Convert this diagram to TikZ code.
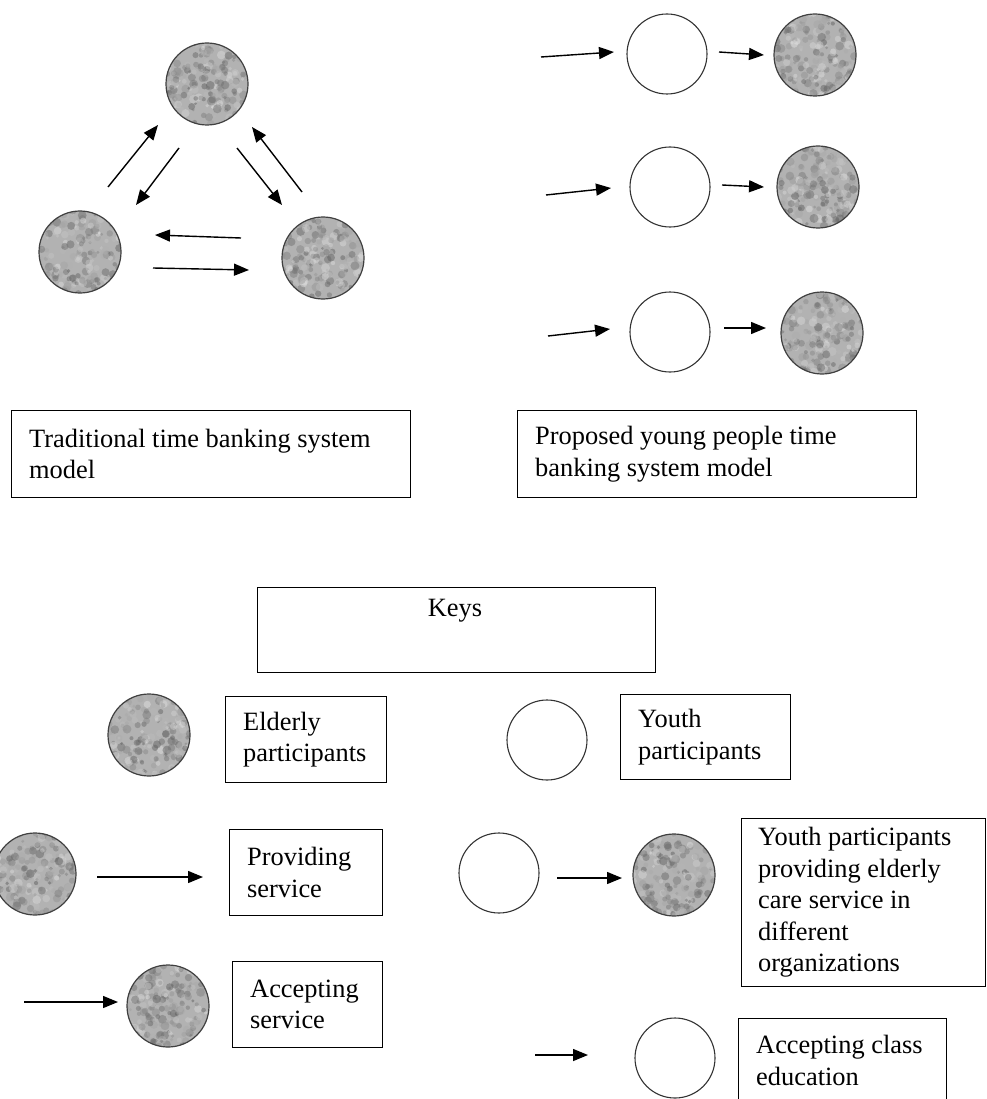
\documentclass[tikz,border=0pt]{standalone}
\usepackage{fontspec}
\setmainfont{Liberation Serif}
\usetikzlibrary{arrows.meta}
\tikzset{
  box/.style={draw, line width=1.2pt, rectangle, inner sep=0pt, anchor=north west},
  txt/.style={align=left, anchor=west, inner sep=0pt, font=\fontsize{26.4}{31.5}\selectfont},
  youth/.style={draw=black!80, circle, line width=1.1pt, minimum size=80pt, inner sep=0pt},
  arr/.style={line width=1.4pt, -{Triangle[length=15pt,width=12pt]}},
}
\newcommand\elder[3]{%
  \node[circle, minimum size=82pt, inner sep=0pt, fill=gray!60] (#1) at (#2,#3) {};
  \begin{scope}
    \clip (#2,#3) circle (41pt);
    \foreach \k in {1,...,220}{
      \pgfmathsetmacro\gx{#2+42*rand}
      \pgfmathsetmacro\gy{#3+42*rand}
      \pgfmathtruncatemacro\gl{35+55*rnd}
      \pgfmathsetmacro\gr{1.5+3*rnd}
      \fill[white!\gl!black, opacity=0.45] (\gx,\gy) circle (\gr pt);
    }
  \end{scope}
  \draw[line width=1.2pt, black!75] (#2,#3) circle (41pt);
}
\newcommand\arrw[5]{%
  \coordinate (#1s) at (#2,#3);
  \coordinate (#1e) at (#4,#5);
  \draw[arr] (#1s) -- (#1e);
}
\begin{document}
\begin{tikzpicture}[x=1pt,y=-1pt]
\pgfmathsetseed{4242}
\useasboundingbox (0,0) rectangle (986,1099);

% traditional model
\elder{tA}{207}{84}
\elder{tB}{80}{252}
\elder{tC}{323}{258}
\arrw{t1}{108}{187}{158}{125}
\arrw{t2}{179}{148}{136}{205}
\arrw{t3}{237}{148}{282}{205}
\arrw{t4}{302}{192}{252}{127}
\arrw{t5}{241}{238}{155}{235}
\arrw{t6}{153}{268}{249}{270}

% proposed model
\node[youth] (y1) at (667,54) {};
\node[youth] (y2) at (670,187) {};
\node[youth] (y3) at (670,332) {};
\elder{e1}{815}{55}
\elder{e2}{818}{187}
\elder{e3}{822}{333}
\arrw{r1}{541}{57}{614}{52}
\arrw{r2}{719}{52}{764}{55}
\arrw{r3}{546}{195}{611}{188}
\arrw{r4}{722}{185}{764}{187}
\arrw{r5}{548}{336}{610}{329}
\arrw{r6}{724}{328}{766}{328}

% caption boxes
\node[box, minimum width=399pt, minimum height=87pt] (b1) at (11,410) {};
\node[txt] (b1t) at ([xshift=18pt]b1.west) {Traditional time banking system\\model};
\node[box, minimum width=399pt, minimum height=87pt] (b2) at (517,410) {};
\node[txt] (b2t) at ([xshift=18pt]b2.west) {Proposed young people time\\banking system model};

% keys
\node[box, minimum width=398pt, minimum height=85pt] (keys) at (257,587) {};
\node[txt, anchor=center] (keyst) at (455,611) {Keys};

\elder{k1}{149}{735}
\node[box, minimum width=161pt, minimum height=86pt] (k1b) at (225,696) {};
\node[txt] (k1t) at ([xshift=18pt]k1b.west) {Elderly\\participants};

\node[youth] (k2) at (547,740) {};
\node[box, minimum width=170pt, minimum height=85pt] (k2b) at (620,694) {};
\node[txt] (k2t) at ([xshift=18pt]k2b.west) {Youth\\participants};

\elder{k3}{35}{874}
\arrw{l1}{97}{877}{203}{877}
\node[box, minimum width=153pt, minimum height=86pt] (k3b) at (229,829) {};
\node[txt] (k3t) at ([xshift=18pt]k3b.west) {Providing\\service};

\node[youth] (k4) at (499,873) {};
\arrw{l2}{557}{878}{622}{878}
\elder{k4e}{674}{875}
\node[box, minimum width=244pt, minimum height=168pt] (k4b) at (741,818) {};
\node[txt] (k4t) at ([xshift=17pt]k4b.west) {Youth participants\\providing elderly\\care service in\\different\\organizations};

\arrw{l3}{24}{1002}{118}{1002}
\elder{k5}{168}{1006}
\node[box, minimum width=150pt, minimum height=86pt] (k5b) at (232,961) {};
\node[txt] (k5t) at ([xshift=18pt]k5b.west) {Accepting\\service};

\arrw{l4}{535}{1055}{588}{1055}
\node[youth] (k6) at (675,1058) {};
\node[box, minimum width=208pt, minimum height=84pt] (k6b) at (738,1018) {};
\node[txt] (k6t) at ([xshift=18pt]k6b.west) {Accepting class\\education};
\end{tikzpicture}
\end{document}
